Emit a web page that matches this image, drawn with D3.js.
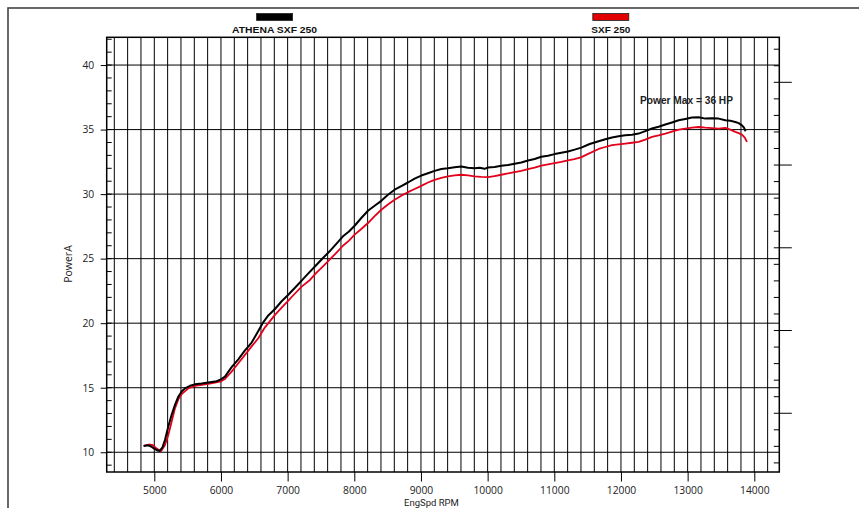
<!DOCTYPE html>
<html>
<head>
<meta charset="utf-8">
<script src="https://cdn.jsdelivr.net/npm/d3@7"></script>
<style>
  html, body { margin: 0; padding: 0; background: #fff; }
  svg { display: block; }
</style>
</head>
<body>
<svg id="chart" width="859" height="508"></svg>
<script>
// ---------------- DATA ----------------
const seriesNames = ["ATHENA SXF 250", "SXF 250"];
const seriesColors = ["#000000", "#e3001b"];

const athenaRpm = [4840, 4900, 4950, 5000, 5050, 5080, 5120, 5160, 5210, 5260, 5310, 5360, 5410, 5460, 5535, 5610, 5710, 5810, 5935, 6000, 6060, 6160, 6260, 6360, 6460, 6560, 6625, 6710, 6810, 6910, 7010, 7110, 7210, 7300, 7420, 7530, 7630, 7730, 7830, 7920, 8005, 8105, 8205, 8305, 8405, 8505, 8605, 8705, 8805, 8905, 9005, 9105, 9205, 9305, 9405, 9505, 9605, 9705, 9805, 9880, 9955, 10005, 10105, 10205, 10305, 10405, 10505, 10605, 10705, 10805, 10905, 11005, 11105, 11205, 11305, 11405, 11530, 11665, 11765, 11865, 11965, 12065, 12165, 12265, 12365, 12465, 12565, 12665, 12765, 12865, 12965, 13065, 13165, 13265, 13365, 13465, 13565, 13640, 13715, 13765, 13815, 13845, 13870];
const athenaPower = [10.48, 10.55, 10.45, 10.28, 10.13, 10.1, 10.35, 10.95, 12.0, 12.9, 13.67, 14.3, 14.7, 14.95, 15.15, 15.26, 15.32, 15.4, 15.5, 15.65, 15.86, 16.6, 17.2, 17.9, 18.5, 19.4, 20.0, 20.6, 21.1, 21.7, 22.2, 22.75, 23.3, 23.8, 24.45, 25.05, 25.57, 26.15, 26.73, 27.1, 27.55, 28.15, 28.71, 29.1, 29.48, 29.95, 30.34, 30.62, 30.9, 31.2, 31.44, 31.62, 31.8, 31.95, 32.0, 32.08, 32.14, 32.05, 32.0, 32.05, 31.96, 32.06, 32.1, 32.19, 32.25, 32.35, 32.45, 32.6, 32.72, 32.9, 32.98, 33.1, 33.2, 33.3, 33.45, 33.6, 33.88, 34.1, 34.25, 34.38, 34.48, 34.56, 34.6, 34.69, 34.88, 35.08, 35.22, 35.39, 35.55, 35.72, 35.82, 35.93, 35.95, 35.85, 35.88, 35.85, 35.72, 35.68, 35.59, 35.5, 35.33, 35.15, 34.87];

const sxfRpm = [4840, 4920, 4980, 5030, 5100, 5160, 5210, 5260, 5310, 5360, 5410, 5510, 5610, 5710, 5810, 5910, 6000, 6060, 6160, 6260, 6360, 6460, 6560, 6660, 6810, 6910, 7010, 7110, 7210, 7335, 7430, 7530, 7630, 7730, 7830, 7920, 8005, 8105, 8205, 8305, 8405, 8505, 8605, 8705, 8805, 8905, 9005, 9105, 9205, 9305, 9405, 9505, 9605, 9705, 9805, 9905, 10005, 10105, 10205, 10305, 10405, 10505, 10605, 10705, 10805, 10905, 11005, 11105, 11205, 11300, 11400, 11500, 11665, 11765, 11865, 11965, 12065, 12165, 12265, 12365, 12465, 12565, 12665, 12765, 12865, 12965, 13065, 13165, 13265, 13365, 13465, 13565, 13640, 13715, 13765, 13815, 13860, 13890];
const sxfPower = [10.5, 10.6, 10.55, 10.3, 10.08, 10.57, 11.34, 12.37, 13.4, 14.1, 14.5, 14.95, 15.14, 15.22, 15.3, 15.4, 15.5, 15.68, 16.25, 16.9, 17.54, 18.2, 18.83, 19.68, 20.64, 21.2, 21.75, 22.3, 22.83, 23.35, 23.9, 24.4, 24.92, 25.45, 26.0, 26.4, 26.86, 27.3, 27.76, 28.3, 28.79, 29.2, 29.56, 29.88, 30.15, 30.4, 30.64, 30.9, 31.1, 31.25, 31.37, 31.45, 31.5, 31.45, 31.37, 31.33, 31.31, 31.4, 31.5, 31.6, 31.7, 31.8, 31.93, 32.05, 32.2, 32.3, 32.4, 32.5, 32.62, 32.72, 32.85, 33.1, 33.5, 33.65, 33.79, 33.86, 33.92, 33.98, 34.05, 34.22, 34.43, 34.55, 34.69, 34.85, 35.0, 35.08, 35.15, 35.2, 35.15, 35.12, 35.08, 35.13, 35.0, 34.82, 34.72, 34.61, 34.35, 34.05];

const xTicks = [5000, 6000, 7000, 8000, 9000, 10000, 11000, 12000, 13000, 14000];
const yTicks = [10, 15, 20, 25, 30, 35, 40];
const xTitle = "EngSpd RPM";
const yTitle = "PowerA";
const annotation = "Power Max = 36 HP";

// ---------------- LAYOUT ----------------
const svg = d3.select("#chart");
const L = 106.7, R = 779.3, T = 37.3, B = 472;
const x = d3.scaleLinear().domain([4286, 14375]).range([L, R]);
const y = d3.scaleLinear().domain([8.47, 42.15]).range([B, T]);
const yRight = d3.scaleLinear().domain([1.45, 27.72]).range([B, T]);

// outer frame
svg.append("rect").attr("x", 8).attr("y", 8).attr("width", 900).attr("height", 600)
  .attr("fill", "none").attr("stroke", "#444").attr("stroke-width", 1.6);

const g = svg.append("g");

// vertical grid every 200 rpm
const vGrid = d3.range(4400, 14201, 200);
g.selectAll("line.vg").data(vGrid).join("line").attr("class", "vg")
  .attr("x1", d => x(d)).attr("x2", d => x(d)).attr("y1", T).attr("y2", B)
  .attr("stroke", "#000").attr("stroke-width", 1);

// horizontal grid
g.selectAll("line.hg").data(yTicks).join("line").attr("class", "hg")
  .attr("x1", L).attr("x2", R).attr("y1", d => y(d)).attr("y2", d => y(d))
  .attr("stroke", "#000").attr("stroke-width", 1);

// left minor ticks (inside)
g.selectAll("line.lm").data(d3.range(9, 43, 1)).join("line").attr("class", "lm")
  .attr("x1", L).attr("x2", L + 5).attr("y1", d => y(d)).attr("y2", d => y(d))
  .attr("stroke", "#000").attr("stroke-width", 1);

// right axis: minor inside, major outside
const rMinor = d3.range(2, 28, 1);
g.selectAll("line.rm").data(rMinor).join("line").attr("class", "rm")
  .attr("x1", R - 5.5).attr("x2", R).attr("y1", d => yRight(d)).attr("y2", d => yRight(d))
  .attr("stroke", "#000").attr("stroke-width", 1);
g.selectAll("line.rM").data([5, 10, 15, 20, 25]).join("line").attr("class", "rM")
  .attr("x1", R).attr("x2", R + 12.5).attr("y1", d => yRight(d)).attr("y2", d => yRight(d))
  .attr("stroke", "#000").attr("stroke-width", 1);

// axes
const fontTick = "'Open Sans', 'Noto Sans', sans-serif";
const ax = g.append("g").attr("transform", `translate(0,${B})`)
  .call(d3.axisBottom(x).tickValues(xTicks).tickSize(9.5).tickPadding(5).tickFormat(d3.format("d")));
const ay = g.append("g").attr("transform", `translate(${L},0)`)
  .call(d3.axisLeft(y).tickValues(yTicks).tickSize(6).tickPadding(6.5).tickFormat(d3.format("d")));
[ax, ay].forEach(a => {
  a.select(".domain").remove();
  a.selectAll("line").attr("stroke", "#000");
  a.selectAll("text").attr("font-family", fontTick).attr("font-size", 10.3).attr("fill", "#222");
});

// plot border
g.append("rect").attr("x", L).attr("y", T).attr("width", R - L).attr("height", B - T)
  .attr("fill", "none").attr("stroke", "#000").attr("stroke-width", 1.5);

// axis titles
svg.append("text").attr("x", 431.5).attr("y", 505.5).attr("text-anchor", "middle")
  .attr("font-family", "Roboto, 'Open Sans', sans-serif").attr("font-size", 9.5).attr("fill", "#222").text(xTitle);
svg.append("text").attr("transform", "translate(72,264) rotate(-90)").attr("text-anchor", "middle")
  .attr("font-family", fontTick).attr("font-size", 10.5).attr("fill", "#222").text(yTitle);

// lines
const line = d3.line().x(d => x(d[0])).y(d => y(d[1])).curve(d3.curveLinear);
const series = [
  { name: seriesNames[1], color: seriesColors[1], pts: d3.zip(sxfRpm, sxfPower), w: 1.8 },
  { name: seriesNames[0], color: seriesColors[0], pts: d3.zip(athenaRpm, athenaPower), w: 2 }
];
g.selectAll("path.s").data(series).join("path").attr("class", "s")
  .attr("d", d => line(d.pts)).attr("fill", "none")
  .attr("stroke", d => d.color).attr("stroke-width", d => d.w).attr("stroke-linejoin", "round");

// legend
const fontBold = "'Liberation Sans', Arial, sans-serif";
const legend = [
  { name: seriesNames[0], color: seriesColors[0], cx: 274.6, tl: 85 },
  { name: seriesNames[1], color: "#e00000", cx: 610.8, tl: 39 }
];
legend.forEach(l => {
  svg.append("rect").attr("x", l.cx - 18).attr("y", 13.5).attr("width", 36).attr("height", 7)
    .attr("fill", l.color).attr("stroke", "#222").attr("stroke-width", 0.8);
  svg.append("text").attr("x", l.cx).attr("y", 33.2).attr("text-anchor", "middle")
    .attr("font-family", fontBold).attr("font-weight", "bold").attr("font-size", 9)
    .attr("textLength", l.tl).attr("lengthAdjust", "spacingAndGlyphs")
    .attr("fill", "#111").text(l.name);
});

// annotation
svg.append("text").attr("x", 686.5).attr("y", 103.5).attr("text-anchor", "middle")
  .attr("font-family", fontBold).attr("font-weight", "bold").attr("font-size", 10)
  .attr("textLength", 93).attr("lengthAdjust", "spacingAndGlyphs")
  .attr("fill", "#222").text(annotation);
</script>
</body>
</html>
